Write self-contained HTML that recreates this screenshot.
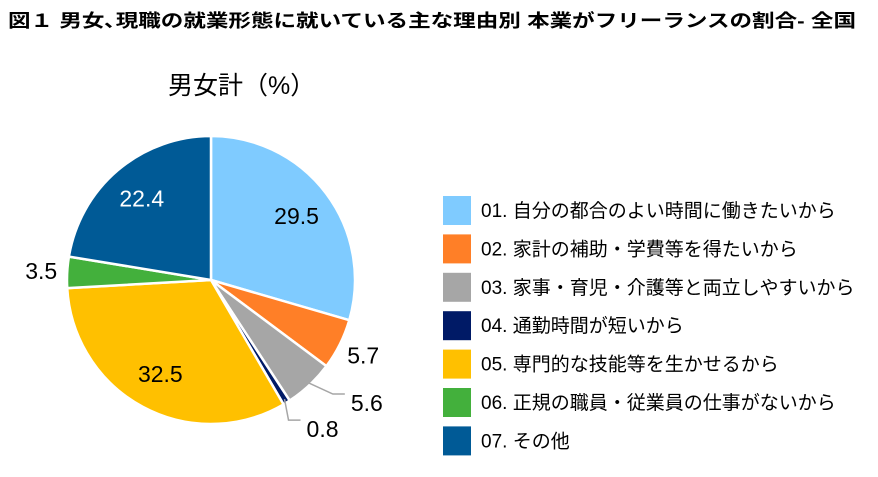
<!DOCTYPE html>
<html><head><meta charset="utf-8"><style>
body{margin:0;width:878px;height:472px;background:#fff;overflow:hidden;font-family:"Liberation Sans","Noto Sans CJK JP",sans-serif;}
svg text{font-family:"Liberation Sans","Noto Sans CJK JP",sans-serif;}
</style></head><body>
<svg id="chart" width="878" height="472" xmlns="http://www.w3.org/2000/svg">
<text x="8" y="27" font-size="18" font-weight="bold" fill="#000" textLength="848" lengthAdjust="spacingAndGlyphs">図１ 男女､現職の就業形態に就いている主な理由別 本業がフリーランスの割合- 全国</text>
<text x="168" y="94" font-size="25" fill="#000">男女計（%）</text>
<g id="slices"></g>
<g id="labels"></g>
<g id="legend"></g>
</svg>
<script>
const categories=["01. 自分の都合のよい時間に働きたいから","02. 家計の補助・学費等を得たいから","03. 家事・育児・介護等と両立しやすいから","04. 通勤時間が短いから","05. 専門的な技能等を生かせるから","06. 正規の職員・従業員の仕事がないから","07. その他"];
const values=[29.5,5.7,5.6,0.8,32.5,3.5,22.4];
const colors=["#7FCBFF","#FF7F27","#A6A6A6","#001A66","#FFC000","#43B03C","#005A96"];
const NS="http://www.w3.org/2000/svg";
const cx=211,cy=280,R=144;
const total=values.reduce((a,b)=>a+b,0);
function pt(a,r){return [cx+r*Math.sin(a),cy-r*Math.cos(a)];}
const sl=document.getElementById('slices'),lb=document.getElementById('labels'),lg=document.getElementById('legend');
let cum=0;
values.forEach((v,i)=>{
 const a0=cum/total*2*Math.PI,a1=(cum+v)/total*2*Math.PI,am=(a0+a1)/2;cum+=v;
 const p0=pt(a0,R),p1=pt(a1,R);
 const p=document.createElementNS(NS,'path');
 p.setAttribute('d',`M${cx},${cy}L${p0[0]},${p0[1]}A${R},${R} 0 ${a1-a0>Math.PI?1:0} 1 ${p1[0]},${p1[1]}Z`);
 p.setAttribute('fill',colors[i]);p.setAttribute('stroke','#fff');p.setAttribute('stroke-width','2.5');
 
 
 sl.appendChild(p);
 const inside=v>15;
 let lp;
 if(inside){lp=pt(am,107);}
 else if(v<1||(i===2)){
  const e=pt(am,R-4);
  const lpX=i===2?e[0]+44:e[0]+22,lpY=i===2?e[1]+15:e[1]+24;
  const ln=document.createElementNS(NS,'polyline');
  ln.setAttribute('points',`${e[0]},${e[1]} ${lpX-18},${lpY-3} ${lpX-6},${lpY-3}`);
  ln.setAttribute('fill','none');ln.setAttribute('stroke','#A6A6A6');ln.setAttribute('stroke-width','1.5');
  
  
  lb.appendChild(ln);
  lp=[lpX+16,lpY+6];
 } else {lp=pt(am,170);}
 const t=document.createElementNS(NS,'text');
 t.setAttribute('x',lp[0]);t.setAttribute('y',lp[1]+8);t.setAttribute('text-anchor','middle');
 t.setAttribute('font-size','23');t.setAttribute('fill',i===6?'#fff':'#000');
 t.textContent=v.toFixed(1);
 
 
 lb.appendChild(t);
 const y=196+i*38.4;
 const r=document.createElementNS(NS,'rect');
 r.setAttribute('x',443);r.setAttribute('y',y);r.setAttribute('width',28);r.setAttribute('height',29);r.setAttribute('fill',colors[i]);
 
 
 lg.appendChild(r);
 const tt=document.createElementNS(NS,'text');
 tt.setAttribute('x',481);tt.setAttribute('y',y+21);tt.setAttribute('font-size','19');tt.setAttribute('fill','#000');
 tt.textContent=categories[i];
 
 
 lg.appendChild(tt);
});
</script>
</body></html>
